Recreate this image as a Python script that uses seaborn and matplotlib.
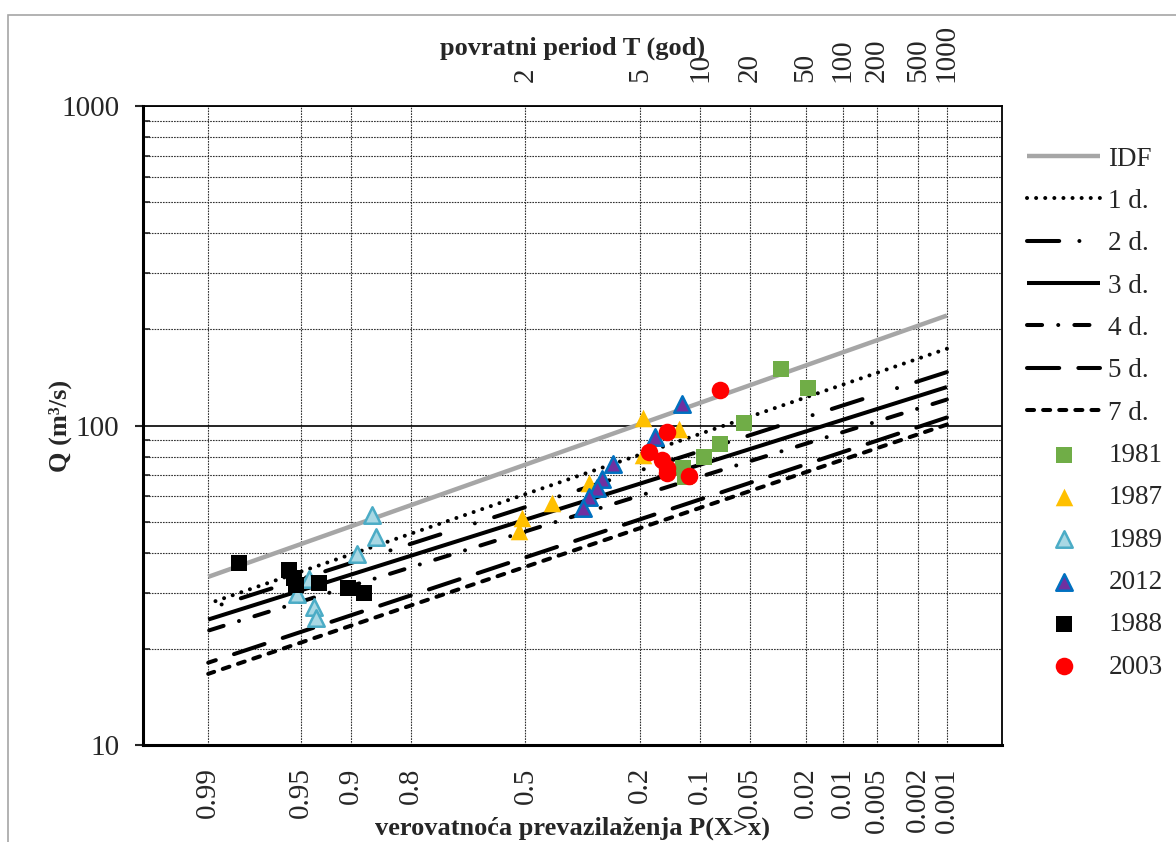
import numpy as np
import pandas as pd
import seaborn as sns
import matplotlib
matplotlib.use('Agg')
import matplotlib.pyplot as plt
from matplotlib.patches import Rectangle
from matplotlib.ticker import FixedLocator, NullLocator, FixedFormatter
from statistics import NormalDist

# --- podaci ---
line_p = [0.99, 0.001]
idf_q = [33.6, 221]
d1_q = [27.7, 174]
d2_q = [26.7, 147]
d3_q = [24.7, 132]
d4_q = [22.8, 120.6]
d5_q = [18.1, 106]
d7_q = [16.7, 100.7]

p_1981 = [0.0304, 0.0191, 0.0544, 0.0767, 0.0951, 0.1239, 0.1208]
q_1981 = [150, 130.8, 101.7, 87.4, 79.6, 73.5, 68.9]
p_1987 = [0.1941, 0.1299, 0.194, 0.3202, 0.4223, 0.5096, 0.5183]
q_1987 = [105.4, 97.4, 80.7, 66.0, 57.1, 51.3, 46.7]
p_1989 = [0.8694, 0.8631, 0.8913, 0.9436, 0.9529, 0.9393, 0.9375]
q_1989 = [52.4, 44.7, 39.6, 33.0, 29.6, 27.0, 24.9]
p_2012 = [0.1253, 0.1708, 0.2601, 0.2869, 0.2995, 0.3202, 0.336]
q_2012 = [116.6, 91.9, 75.7, 67.9, 63.7, 59.6, 55.1]
p_1988 = [0.9821, 0.9584, 0.955, 0.9536, 0.9348, 0.9031, 0.8815]
q_1988 = [37.1, 35.2, 33.3, 31.6, 32.1, 30.9, 29.9]
p_2003 = [0.0767, 0.1494, 0.1822, 0.158, 0.1494, 0.1494, 0.1151]
q_2003 = [128.9, 95.3, 82.5, 77.9, 73.5, 71.0, 69.4]

p_ticks = [0.99, 0.95, 0.9, 0.8, 0.5, 0.2, 0.1, 0.05, 0.02, 0.01, 0.005, 0.002, 0.001]
p_labels = ['0.99', '0.95', '0.9', '0.8', '0.5', '0.2', '0.1', '0.05', '0.02', '0.01', '0.005', '0.002', '0.001']
t_ticks = [2, 5, 10, 20, 50, 100, 200, 500, 1000]

nd = NormalDist()
_ppf = np.vectorize(nd.inv_cdf, otypes=[float])
_cdf = np.vectorize(nd.cdf, otypes=[float])


def fwd(p):
    p = np.asarray(p, dtype=float)
    ok = np.isfinite(p)
    out = np.full(p.shape, np.nan)
    out[ok] = _ppf(np.clip(p[ok], 1e-12, 1 - 1e-12))
    return out


def inv(u):
    u = np.asarray(u, dtype=float)
    ok = np.isfinite(u)
    out = np.full(u.shape, np.nan)
    out[ok] = _cdf(u[ok])
    return out


sns.set_theme(style='white')
plt.rcParams['font.family'] = ['Liberation Serif', 'DejaVu Serif']
FS = 21
LFS = 19.5

fig = plt.figure(figsize=(11.76, 8.42), dpi=100)
ax = fig.add_axes([0.1216, 0.1152, 0.7304, 0.7588])
ax.set_xscale('function', functions=(fwd, inv))
ax.set_yscale('log')
xlim = (0.99748, 0.000238)
ax.set_xlim(xlim)
ax.set_ylim(10, 1000)

lines = [
    ('IDF', idf_q, '#A6A6A6', 3.2, '-', 'butt'),
    ('1 d.', d1_q, 'black', 2.9, (0, (0.01, 2.25)), 'round'),
    ('2 d.', d2_q, 'black', 2.9, (0, (8, 5, 0.01, 9)), 'round'),
    ('3 d.', d3_q, 'black', 2.9, '-', 'butt'),
    ('4 d.', d4_q, 'black', 2.9, (0, (3.75, 4, 0.01, 4)), 'round'),
    ('5 d.', d5_q, 'black', 2.9, (0, (8, 4.75)), 'round'),
    ('7 d.', d7_q, 'black', 2.9, (0, (1.75, 2.25)), 'round'),
]
for name, q, col, lw, ls, cap in lines:
    sns.lineplot(x=line_p, y=q, ax=ax, color=col, linewidth=lw, linestyle=ls,
                 dash_capstyle=cap, solid_capstyle='butt', label=name, errorbar=None)

points = [
    ('1981', p_1981, q_1981, 's', '#70AD47', '#70AD47', 0, 135),
    ('1987', p_1987, q_1987, '^', '#FFC000', '#FFC000', 0, 160),
    ('1989', p_1989, q_1989, '^', '#A9D8E4', '#4BACC6', 1.8, 140),
    ('2012', p_2012, q_2012, '^', '#7030A0', '#0070C0', 1.8, 140),
    ('1988', p_1988, q_1988, 's', 'black', 'black', 0, 135),
    ('2003', p_2003, q_2003, 'o', '#FF0000', '#FF0000', 0, 160),
]
for name, p, q, m, fc, ec, elw, s in points:
    sns.scatterplot(x=p, y=q, ax=ax, marker=m, color=fc, edgecolor=ec,
                    linewidth=elw, s=s, label=name, zorder=5)

# x osa (donja)
ax.xaxis.set_major_locator(FixedLocator(p_ticks))
ax.xaxis.set_major_formatter(FixedFormatter(p_labels))
ax.xaxis.set_minor_locator(NullLocator())
ax.tick_params(axis='x', which='both', length=0, pad=16, labelsize=FS, labelrotation=90)
ax.set_xlabel('verovatnoća prevazilaženja P(X>x)', fontsize=19, fontweight='bold')
ax.xaxis.set_label_coords(0.5, -0.112)

# y osa
ax.yaxis.set_major_locator(FixedLocator([10, 100, 1000]))
ax.yaxis.set_major_formatter(FixedFormatter(['10', '100', '1000']))
ax.tick_params(axis='y', which='major', left=True, direction='out', length=6, width=1.5,
               pad=11, labelsize=FS)
ax.tick_params(axis='y', which='minor', left=True, direction='in', length=5, width=1.2)
ax.set_ylabel('Q (m³/s)', fontsize=19, fontweight='bold')
ax.yaxis.set_label_coords(-0.083, 0.5)

ax.grid(True, axis='x', which='major', color='#303030', linewidth=0.8, linestyle=(0, (1.5, 1)))
ax.grid(True, axis='y', which='minor', color='#303030', linewidth=0.8, linestyle=(0, (1.5, 1)))
ax.grid(True, axis='y', which='major', color='black', linewidth=1.2, linestyle='-')
ax.set_axisbelow(True)

for side in ['left', 'bottom']:
    ax.spines[side].set_linewidth(2.2)
    ax.spines[side].set_color('black')
for side in ['top', 'right']:
    ax.spines[side].set_linewidth(1.3)
    ax.spines[side].set_color('black')

# gornja osa - povratni period
top = ax.twiny()
top.set_xscale('function', functions=(fwd, inv))
top.set_xlim(xlim)
top.xaxis.set_major_locator(FixedLocator([1 / t for t in t_ticks]))
top.xaxis.set_major_formatter(FixedFormatter([str(t) for t in t_ticks]))
top.xaxis.set_minor_locator(NullLocator())
top.tick_params(axis='x', which='both', length=0, pad=17, labelsize=FS, labelrotation=90)
top.set_xlabel('povratni period T (god)', fontsize=19, fontweight='bold')
top.xaxis.set_label_coords(0.5, 1.08)
for s in top.spines.values():
    s.set_visible(False)
top.grid(False)

h, l = ax.get_legend_handles_labels()
leg = ax.legend(h, l, loc='upper left', bbox_to_anchor=(1027 / 1176, 0.826),
                bbox_transform=fig.transFigure, frameon=False, fontsize=LFS,
                handlelength=2.7, handletextpad=0.3, labelspacing=0.64,
                borderpad=0, borderaxespad=0)

fig.patches.append(Rectangle((0.0068, -0.01), 1.0, 0.992, transform=fig.transFigure,
                             fill=False, edgecolor='#A6A6A6', linewidth=1.2))

fig.savefig('out.png', dpi=100)
